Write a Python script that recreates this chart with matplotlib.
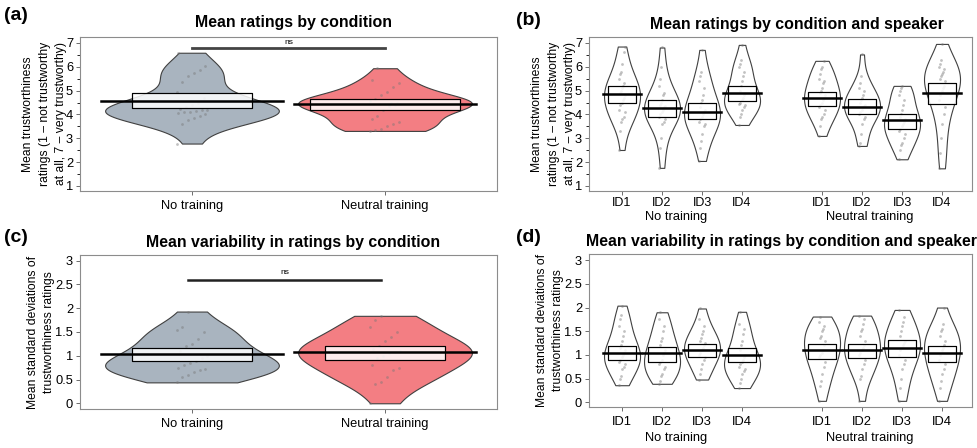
import numpy as np
import matplotlib
matplotlib.use('Agg')
import matplotlib.pyplot as plt

plt.rcParams['font.family'] = ['Liberation Sans', 'DejaVu Sans']

conditions = ['No training', 'Neutral training']
speakers = ['ID1', 'ID2', 'ID3', 'ID4']

# (a) mean ratings per participant
a_no = [2.78, 3.6, 3.75, 3.85, 3.95, 4.0, 4.05, 4.1, 4.12, 4.15, 4.18, 4.2, 4.25,
        4.3, 4.4, 4.5, 4.7, 4.95, 5.35, 5.6, 5.75, 5.85, 6.05, 6.59]
a_tr = [3.31, 3.35, 3.4, 3.5, 3.6, 3.7, 3.8, 3.95, 4.2, 4.35, 4.4, 4.42, 4.44, 4.45,
        4.46, 4.48, 4.5, 4.55, 4.65, 4.8, 4.95, 5.15, 5.3, 5.45, 5.94]
a_mean = [4.58, 4.43]
a_lo = [4.27, 4.19]
a_hi = [4.90, 4.66]

# (b) mean ratings per speaker
b_data = [
    [2.51, 3.3, 3.7, 3.8, 3.9, 4.1, 4.2, 4.4, 4.5, 4.6, 4.7, 4.8, 4.9, 5.0, 5.1, 5.2, 5.3, 5.5, 5.7, 5.8, 6.1, 6.6, 6.85],
    [1.76, 2.6, 3.0, 3.6, 3.7, 3.8, 3.9, 4.0, 4.1, 4.2, 4.3, 4.35, 4.4, 4.5, 4.6, 4.8, 4.9, 5.2, 5.5, 6.0, 6.81],
    [2.05, 2.6, 2.9, 3.2, 3.5, 3.6, 3.7, 3.8, 3.9, 4.0, 4.1, 4.2, 4.3, 4.5, 4.6, 4.8, 5.1, 5.4, 5.6, 5.8, 6.71],
    [3.56, 3.9, 4.0, 4.2, 4.3, 4.4, 4.45, 4.5, 4.6, 4.7, 4.8, 4.9, 5.0, 5.2, 5.4, 5.6, 5.8, 6.0, 6.1, 6.3, 6.92],
    [3.1, 3.5, 3.8, 3.9, 4.0, 4.2, 4.3, 4.4, 4.5, 4.6, 4.7, 4.8, 4.9, 5.0, 5.1, 5.3, 5.4, 5.5, 5.7, 5.9, 6.0, 6.25],
    [2.68, 2.8, 3.2, 3.6, 3.8, 3.9, 4.0, 4.1, 4.2, 4.3, 4.35, 4.4, 4.5, 4.6, 4.7, 4.8, 5.0, 5.1, 5.3, 5.6, 6.52],
    [2.12, 2.5, 2.7, 2.8, 3.0, 3.2, 3.3, 3.4, 3.5, 3.6, 3.7, 3.8, 3.9, 4.0, 4.2, 4.4, 4.6, 4.8, 5.0, 5.1, 5.2],
    [1.74, 2.4, 3.0, 3.6, 4.0, 4.3, 4.6, 4.8, 5.0, 5.1, 5.2, 5.4, 5.5, 5.6, 5.7, 5.8, 5.9, 6.0, 6.1, 6.3, 6.96],
]
b_mean = [4.85, 4.29, 4.10, 4.92, 4.71, 4.33, 3.76, 4.92]
b_lo = [4.47, 3.91, 3.80, 4.57, 4.37, 4.01, 3.38, 4.43]
b_hi = [5.21, 4.61, 4.47, 5.20, 4.96, 4.65, 4.03, 5.34]

# (c) mean SD per participant
c_no = [0.44, 0.55, 0.6, 0.65, 0.7, 0.72, 0.75, 0.8, 0.85, 0.9, 0.95, 1.0, 1.1, 1.2,
        1.25, 1.35, 1.5, 1.55, 1.6, 1.93]
c_tr = [0.0, 0.4, 0.45, 0.55, 0.7, 0.75, 0.8, 0.95, 1.0, 1.05, 1.08, 1.1, 1.15, 1.2,
        1.3, 1.4, 1.5, 1.6, 1.75, 1.84]
c_mean = [1.04, 1.08]
c_lo = [0.89, 0.91]
c_hi = [1.17, 1.21]

# (d) SD per speaker
d_data = [
    [0.36, 0.5, 0.55, 0.7, 0.75, 0.8, 0.85, 0.9, 0.95, 1.0, 1.05, 1.1, 1.15, 1.2, 1.3, 1.4, 1.5, 1.6, 1.75, 1.85, 2.04],
    [0.39, 0.45, 0.55, 0.6, 0.7, 0.75, 0.8, 0.85, 0.9, 1.0, 1.05, 1.1, 1.2, 1.3, 1.35, 1.5, 1.6, 1.75, 1.9],
    [0.48, 0.6, 0.7, 0.8, 0.9, 0.95, 1.0, 1.05, 1.1, 1.15, 1.2, 1.25, 1.3, 1.35, 1.45, 1.5, 1.6, 1.75, 1.98],
    [0.3, 0.4, 0.5, 0.6, 0.65, 0.7, 0.75, 0.8, 0.85, 0.9, 0.95, 1.0, 1.1, 1.2, 1.3, 1.45, 1.55, 1.65, 1.91],
    [0.03, 0.35, 0.45, 0.6, 0.75, 0.85, 0.95, 1.0, 1.05, 1.1, 1.2, 1.3, 1.35, 1.4, 1.5, 1.55, 1.6, 1.7, 1.81],
    [0.03, 0.5, 0.55, 0.7, 0.8, 0.9, 1.0, 1.05, 1.1, 1.15, 1.2, 1.3, 1.4, 1.5, 1.55, 1.65, 1.75, 1.83],
    [0.03, 0.3, 0.5, 0.7, 0.8, 0.9, 1.0, 1.1, 1.15, 1.2, 1.25, 1.3, 1.4, 1.5, 1.6, 1.7, 1.8, 1.95],
    [0.03, 0.3, 0.45, 0.6, 0.7, 0.8, 0.9, 1.0, 1.1, 1.15, 1.2, 1.3, 1.4, 1.5, 1.55, 1.65, 2.0],
]
d_mean = [1.05, 1.03, 1.11, 1.00, 1.11, 1.11, 1.15, 1.03]
d_lo = [0.89, 0.86, 0.95, 0.84, 0.91, 0.93, 0.96, 0.84]
d_hi = [1.19, 1.17, 1.23, 1.15, 1.24, 1.23, 1.32, 1.19]

GREY = '#a9b4bf'
RED = '#f37e83'
SPINE = '#8c8c8c'


def pirate(ax, pos, vals, mean, lo, hi, face, box_w, line_w, edge='#404040'):
    vp = ax.violinplot([vals], positions=[pos], widths=0.9, showextrema=False)
    for b in vp['bodies']:
        b.set_facecolor(face)
        b.set_edgecolor(edge)
        b.set_linewidth(0.8)
        b.set_alpha(1)
    n = len(vals)
    jit = ((np.arange(n) * 37) % 17 / 16 - 0.5) * 0.16
    ax.scatter(pos + jit, vals, s=4, color='#777777', alpha=0.45, linewidths=0, zorder=3)
    ax.add_patch(plt.Rectangle((pos - box_w, lo), 2 * box_w, hi - lo, facecolor='white',
                               alpha=0.85, edgecolor='black', linewidth=0.8, zorder=4))
    ax.add_patch(plt.Rectangle((pos - box_w, lo), 2 * box_w, hi - lo, facecolor='none',
                               edgecolor='black', linewidth=0.8, zorder=5))
    ax.plot([pos - line_w, pos + line_w], [mean, mean], color='black', lw=1.8, zorder=6)


def style_ax(ax):
    for s in ax.spines.values():
        s.set_color(SPINE)
        s.set_linewidth(0.8)
    ax.tick_params(axis='both', colors='#555555', length=3, width=0.6)
    ax.tick_params(axis='y', labelcolor='black', labelsize=9.3, pad=2)
    ax.tick_params(axis='x', labelcolor='black', labelsize=9.3)


fig = plt.figure(figsize=(9.77, 4.48), dpi=100)
axa = fig.add_axes([0.0819, 0.5737, 0.4268, 0.3437])
axb = fig.add_axes([0.6029, 0.5737, 0.3920, 0.3437])
axc = fig.add_axes([0.0819, 0.0871, 0.4268, 0.3437])
axd = fig.add_axes([0.6029, 0.0915, 0.3920, 0.3415])

ylab_ab = 'Mean trustworthiness\nratings (1 \u2013 not trustworthy\nat all, 7 \u2013 very trustworthy)'
ylab_cd = 'Mean standard deviations of\ntrustworthiness ratings'
TITLE = dict(fontsize=11.4, fontweight='bold', ha='center', va='center')

# (a)
pirate(axa, 1, a_no, a_mean[0], a_lo[0], a_hi[0], GREY, 0.31, 0.47)
pirate(axa, 2, a_tr, a_mean[1], a_lo[1], a_hi[1], RED, 0.39, 0.47)
axa.plot([1, 2], [6.8, 6.8], color='#444444', lw=2)
axa.text(1.5, 6.88, 'ns', ha='center', va='bottom', fontsize=6)
axa.set_xlim(0.42, 2.58)
axa.set_ylim(0.79, 7.25)
axa.set_yticks(range(1, 8))
axa.set_yticks(np.arange(1.5, 7, 1), minor=True)
axa.set_xticks([1, 2])
axa.set_xticklabels(conditions)
axa.set_ylabel(ylab_ab, fontsize=8.7, linespacing=1.5, labelpad=-1)

# (c)
pirate(axc, 1, c_no, c_mean[0], c_lo[0], c_hi[0], GREY, 0.31, 0.47)
pirate(axc, 2, c_tr, c_mean[1], c_lo[1], c_hi[1], RED, 0.31, 0.47)
axc.plot([0.98, 1.98], [2.59, 2.59], color='#222222', lw=1.8)
axc.text(1.48, 2.67, 'ns', ha='center', va='bottom', fontsize=6)
axc.set_xlim(0.42, 2.58)
axc.set_ylim(-0.12, 3.12)

# (b) and (d)
spk_pos = [1, 2, 3, 4, 6, 7, 8, 9]
for i, p in enumerate(spk_pos):
    pirate(axb, p, b_data[i], b_mean[i], b_lo[i], b_hi[i], 'white', 0.35, 0.48)
    pirate(axd, p, d_data[i], d_mean[i], d_lo[i], d_hi[i], 'white', 0.35, 0.48)
axb.set_ylim(0.79, 7.25)
axb.set_yticks(range(1, 8))
axb.set_yticks(np.arange(1.5, 7, 1), minor=True)
axb.set_ylabel(ylab_ab, fontsize=8.7, linespacing=1.5, labelpad=-1)
axd.set_ylim(-0.1, 3.13)

for ax in (axc, axd):
    ticks = np.arange(0, 3.01, 0.5)
    ax.set_yticks(ticks)
    ax.set_yticklabels(['%g' % t for t in ticks])
    ax.set_ylabel(ylab_cd, fontsize=8.7, linespacing=1.5, labelpad=0)
axc.set_xticks([1, 2])
axc.set_xticklabels(conditions)

for ax in (axa, axb, axc, axd):
    style_ax(ax)

for ax, gy in ((axb, -0.168), (axd, -0.2)):
    ax.set_xlim(0.175, 9.75)
    ax.set_xticks(spk_pos)
    ax.set_xticklabels(speakers * 2)
    ax.text(2.35, gy, conditions[0], transform=ax.get_xaxis_transform(),
            ha='center', va='center', fontsize=9.3)
    ax.text(7.2, gy, conditions[1], transform=ax.get_xaxis_transform(),
            ha='center', va='center', fontsize=9.3)
axb.tick_params(axis='x', pad=1, labelsize=9)

fig.text(0.300, 1 - 23 / 448, 'Mean ratings by condition', **TITLE)
fig.text(0.816, 1 - 25 / 448, 'Mean ratings by condition and speaker', **TITLE)
fig.text(0.300, 1 - 242 / 448, 'Mean variability in ratings by condition', **TITLE)
fig.text(0.7995, 1 - 241 / 448, 'Mean variability in ratings by condition and speaker', **TITLE)

for lab, x, y in [('(a)', 0.004, 0.965), ('(b)', 0.528, 0.955),
                  ('(c)', 0.004, 0.47), ('(d)', 0.528, 0.47)]:
    fig.text(x, y, lab, fontsize=14, fontweight='bold', va='center', ha='left')

fig.savefig('out.png', dpi=100)
